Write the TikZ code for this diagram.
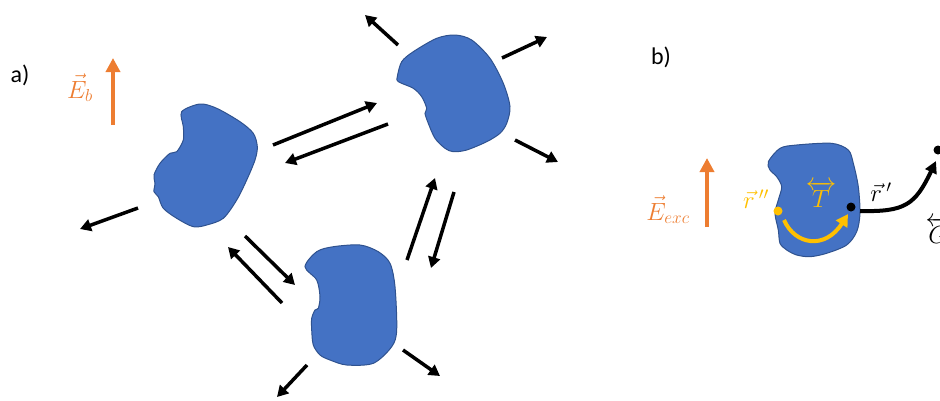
\documentclass[tikz,border=0pt]{standalone}
\usepackage{amsmath}
\usepackage{fontspec}
\setmainfont{Carlito}
\usetikzlibrary{arrows.meta}

\definecolor{blobfill}{HTML}{4472C4}
\definecolor{blobline}{HTML}{2F528F}
\definecolor{fieldorange}{HTML}{ED7D31}
\definecolor{tgold}{HTML}{FFC000}

\begin{document}
\begin{tikzpicture}[x=1pt, y=-1pt,
  blob/.style={fill=blobfill, draw=blobline, line width=1pt},
  arrow/.style={-{Triangle[length=11pt,width=12pt]}, line width=3.5pt},
  efield/.style={-{Triangle[length=14pt,width=14pt]}, line width=4.5pt, draw=fieldorange},
  panel/.style={font=\fontsize{24}{28}\selectfont},
  mlabel/.style={font=\fontsize{27}{31}\selectfont, inner sep=0pt},
  dot/.style={circle, inner sep=0pt, minimum size=9pt}
]
\useasboundingbox (0,0) rectangle (940,400);

% Panel a -- particles
\draw[blob] plot[smooth cycle, tension=0.5] coordinates {
  (181.7,111.7) (200,104) (216.7,108.3) (240,121.7) (253.3,133.3) (257.3,146.7)
  (255,160) (246.7,180) (236.7,200) (223.3,218.3) (206.7,225) (193.3,226.7)
  (176.7,218.3) (163.3,208.3) (158.3,196.7) (154,191.7) (155,183.3) (154,175)
  (160,163.3) (170,153.3) (176.7,151.7) (183.3,140) (183.3,126.7)};
\draw[blob] plot[smooth cycle, tension=0.5] coordinates {
  (401.7,61.7) (413.3,51.7) (436.7,38.3) (455,35) (471.7,40) (490,58.3)
  (503.3,83.3) (510,106.7) (506.7,123.3) (500,133.3) (486.7,141.7) (466.7,150)
  (453.3,151.7) (445,148.3) (435,138.3) (428.3,123.3) (425,113.3) (426.7,108.3)
  (421.7,96.7) (413.3,88.3) (398.3,81.7) (397.3,76.7)};
\draw[blob] plot[smooth cycle, tension=0.5] coordinates {
  (305,266.7) (316.7,251.7) (333.3,246.7) (360,245) (378.3,251.7) (390,263.3)
  (395,286.7) (396.7,330) (391.7,346.7) (373.3,363.3) (346.7,365) (330,360)
  (320,355) (313.3,345) (311.7,330) (311.7,318.3) (315,310) (318.3,308.3)
  (320,296.7) (316.7,280)};

% Panel a -- arrow ends
\coordinate (l1a) at (138,208);   \coordinate (l1b) at (80,229);
\coordinate (x12a) at (273,145);  \coordinate (x12b) at (377,103);
\coordinate (x21a) at (388,124);  \coordinate (x21b) at (285,163);
\coordinate (t2a) at (398,45);    \coordinate (t2b) at (365,15);
\coordinate (r2a) at (502,58);    \coordinate (r2b) at (547,37);
\coordinate (d2a) at (515,140);   \coordinate (d2b) at (558,162);
\coordinate (x13a) at (245,236);  \coordinate (x13b) at (295,285);
\coordinate (x31a) at (282,303);  \coordinate (x31b) at (228,247);
\coordinate (x32a) at (407,260);  \coordinate (x32b) at (435,178);
\coordinate (x23a) at (454,192);  \coordinate (x23b) at (431,268);
\coordinate (l3a) at (307,365);   \coordinate (l3b) at (277,397);
\coordinate (r3a) at (403,350);   \coordinate (r3b) at (440,376);

% Panel a -- arrows
\draw[arrow] (l1a)  -- (l1b);
\draw[arrow] (x12a) -- (x12b);
\draw[arrow] (x21a) -- (x21b);
\draw[arrow] (t2a)  -- (t2b);
\draw[arrow] (r2a)  -- (r2b);
\draw[arrow] (d2a)  -- (d2b);
\draw[arrow] (x13a) -- (x13b);
\draw[arrow] (x31a) -- (x31b);
\draw[arrow] (x32a) -- (x32b);
\draw[arrow] (x23a) -- (x23b);
\draw[arrow] (l3a)  -- (l3b);
\draw[arrow] (r3a)  -- (r3b);

% Panel a -- field
\node[panel] (labela) at (20,75) {a)};
\coordinate (eba) at (113,125); \coordinate (ebb) at (113,58);
\draw[efield] (eba) -- (ebb);
\node[mlabel, text=fieldorange] (eb) at (80,88) {$\vec{E}_b$};

% Panel b
\node[panel] (labelb) at (661,57) {b)};
\coordinate (exa) at (707,227); \coordinate (exb) at (707,158);
\draw[efield] (exa) -- (exb);
\node[mlabel, text=fieldorange] (eexc) at (668,210) {$\vec{E}_{exc}$};

\draw[blob] plot[smooth cycle, tension=0.5] coordinates {
  (768.3,161.7) (780,148.3) (796.7,145) (831.7,143.3) (848.3,150) (853.3,163.3)
  (858.3,186.7) (860,213.3) (856.7,231.7) (846.7,245) (826.7,253.3) (810,256.7)
  (796.7,255) (786.7,250) (780,243.3) (778.3,230) (775,213.3) (778.3,200)
  (781.7,186.7) (776.7,176.7) (770,170)};

\node[dot, fill=tgold] (rpp) at (778,211) {};
\node[dot, fill=black] (rp) at (851,207) {};
\node[dot, fill=black] (robs) at (938,150) {};
\coordinate (gstart) at (860,211);
\coordinate (gend) at (936,161);
\coordinate (tstart) at (784,220);
\coordinate (tend) at (848,214);

\draw[line width=4pt, tgold, -{Triangle[length=12pt,width=13pt]}]
  (tstart) .. controls (795,245) and (825,250) .. (tend);
\draw[line width=4pt, -{Triangle[length=12pt,width=12pt]}]
  (gstart) .. controls (905,212) and (915,205) .. (gend);

\node[mlabel, text=tgold, font=\fontsize{25}{29}\selectfont] (rpplab) at (756,199) {$\vec{r}\,''$};
\node[mlabel, text=tgold, font=\fontsize{31}{35}\selectfont] (tlab) at (821,194) {$\overleftrightarrow{T}$};
\node[mlabel, font=\fontsize{23}{27}\selectfont] (rplab) at (881,192) {$\vec{r}\,'$};
\node[mlabel, font=\fontsize{25}{29}\selectfont] (glab) at (938,230) {$\overleftarrow{G}$};
\end{tikzpicture}
\end{document}
